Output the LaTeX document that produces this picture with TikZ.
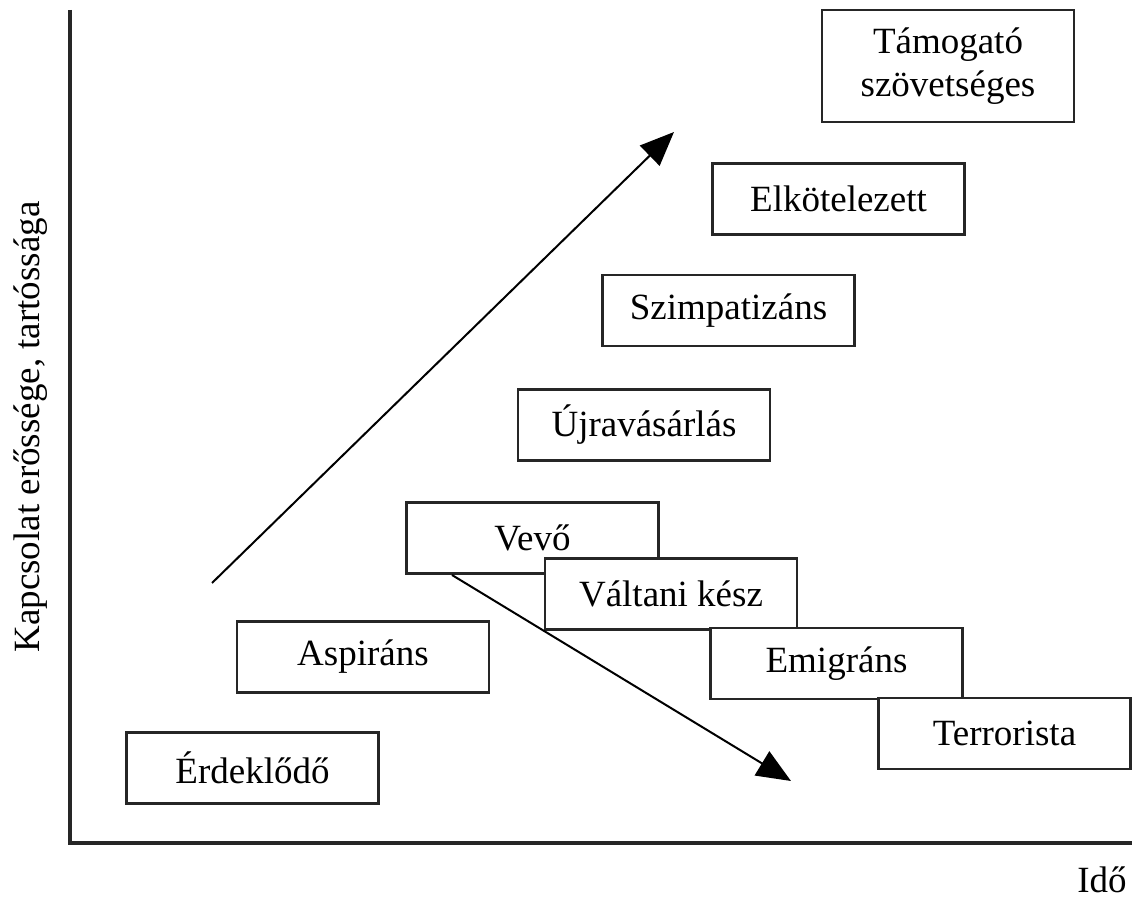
\documentclass[tikz,border=0pt]{standalone}
\usepackage{fontspec}
\setmainfont{Liberation Serif}
\usetikzlibrary{arrows.meta}
\begin{document}
\begin{tikzpicture}[x=0.5pt,y=-0.5pt,
  stage/.style={draw=black!85,line width=1.3pt,fill=white,minimum width=126pt,minimum height=35.5pt,inner sep=0pt,font=\fontsize{18.5}{21}\selectfont},
  axis/.style={line width=2pt,black!85},
  trend/.style={line width=1pt,-{Triangle[length=17pt,width=14pt]}},
  lbl/.style={font=\fontsize{18.5}{21}\selectfont}]
\useasboundingbox (0,0) rectangle (1132,899);
\draw[axis] (70,10) -- (70,843) -- (1132,843);
\node[lbl,rotate=90] (ylab) at (31,427) {Kapcsolat erőssége, tartóssága};
\node[lbl] (xlab) at (1102,880) {Idő};
\node[stage,minimum height=56pt,align=center,font=\fontsize{18.5}{21.5}\selectfont] (tam) at (948,66) {Támogató\\szövetséges};
\node[stage] (elk) at (838.5,199) {Elkötelezett};
\node[stage] (szi) at (728.5,310.5) {Szimpatizáns};
\node[stage] (ujr) at (644,425) {Újravásárlás};
\node[stage] (vev) at (532.5,538) {Vevő};
\node[stage] (val) at (671,594) {Váltani kész};
\node[stage] (emi) at (836.5,663.5) {Emigráns};
\node[stage] (ter) at (1004.5,733.5) {Terrorista};
\node[stage] (asp) at (363,657) {Aspiráns};
\node[stage] (erd) at (252.5,768) {Érdeklődő};
\coordinate (upS) at (212,583);
\coordinate (upE) at (674,132);
\coordinate (dnS) at (452,575);
\coordinate (dnE) at (791,781);
\draw[trend] (upS) -- (upE);
\draw[trend] (dnS) -- (dnE);
\end{tikzpicture}
\end{document}
